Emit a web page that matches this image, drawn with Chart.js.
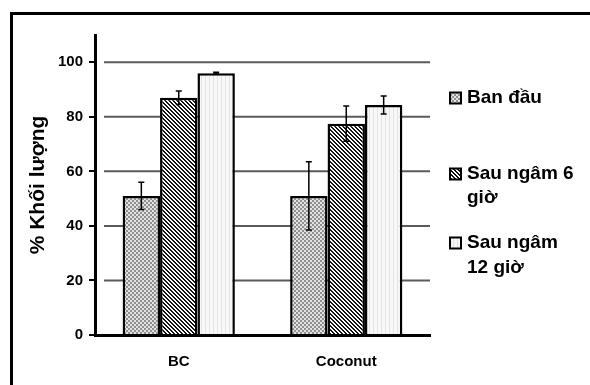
<!DOCTYPE html>
<html>
<head>
<meta charset="utf-8">
<script src="https://cdn.jsdelivr.net/npm/chart.js@4/dist/chart.umd.min.js"></script>
<style>
  html, body { margin: 0; padding: 0; background: #fff; }
  #wrap { width: 590px; height: 385px; }
</style>
</head>
<body>
<div id="wrap"><canvas id="myChart"></canvas></div>
<script>
/* Datos del gráfico */
const categories = ["BC", "Coconut"];
const seriesNames = ["Ban đầu", "Sau ngâm 6 giờ", "Sau ngâm 12 giờ"];
const legendLines = [["Ban đầu"], ["Sau ngâm 6", "giờ"], ["Sau ngâm", "12 giờ"]];
const banDau = [51, 51];
const sau6 = [87, 77.5];
const sau12 = [96, 84.3];
const errBanDau = [5, 12.5];
const errSau6 = [2.5, 6.5];
const errSau12 = [0.3, 3.3];
const yTicks = [0, 20, 40, 60, 80, 100];

const ctx = document.getElementById("myChart");

/* Texturas de las barras */
const makePattern = (kind) => {
  const c = document.createElement("canvas");
  c.width = 4;
  c.height = 4;
  const g = c.getContext("2d");
  if (kind === "check") {
    g.fillStyle = "#e2e2e2";
    g.fillRect(0, 0, 4, 4);
    g.fillStyle = "#909090";
    g.fillRect(0, 0, 2, 2);
    g.fillRect(2, 2, 2, 2);
  } else if (kind === "hatch") {
    g.fillStyle = "#fff";
    g.fillRect(0, 0, 4, 4);
    g.fillStyle = "#111";
    for (let i = 0; i < 4; i++) {
      g.fillRect(i, i, 2, 1);
      if (i > 2) g.fillRect(0, i, 1, 1);
    }
  } else {
    g.fillStyle = "#f8f8f8";
    g.fillRect(0, 0, 4, 4);
    g.fillStyle = "#e4e4e4";
    g.fillRect(1, 0, 1, 4);
  }
  return g.createPattern(c, "repeat");
};

const fills = [makePattern("check"), makePattern("hatch"), makePattern("light")];
const errors = [errBanDau, errSau6, errSau12];

/* Marco, líneas de cuadrícula, barras de error y leyenda */
const extras = {
  id: "extras",
  beforeDraw: (chart) => {
    const c = chart.ctx;
    c.save();
    c.strokeStyle = "#000";
    c.lineWidth = 3;
    c.beginPath();
    c.moveTo(590, 13.5);
    c.lineTo(11.5, 13.5);
    c.lineTo(11.5, 385);
    c.stroke();
    c.restore();
  },
  beforeDatasetsDraw: (chart) => {
    const c = chart.ctx;
    const y = chart.scales.y;
    const area = chart.chartArea;
    c.save();
    c.strokeStyle = "#5a5a5a";
    c.lineWidth = 2;
    yTicks.filter((v) => v > 0).forEach((v) => {
      const py = y.getPixelForValue(v);
      c.beginPath();
      c.moveTo(area.left + 9, py);
      c.lineTo(area.right, py);
      c.stroke();
    });
    c.restore();
  },
  afterDatasetsDraw: (chart) => {
    const c = chart.ctx;
    const y = chart.scales.y;
    c.save();
    c.strokeStyle = "#000";
    c.lineWidth = 1.5;
    chart.data.datasets.forEach((ds, i) => {
      const meta = chart.getDatasetMeta(i);
      meta.data.forEach((bar, j) => {
        const v = ds.data[j];
        const e = errors[i][j];
        const top = y.getPixelForValue(v + e);
        const bot = y.getPixelForValue(v - e);
        c.beginPath();
        c.moveTo(bar.x, top);
        c.lineTo(bar.x, bot);
        c.moveTo(bar.x - 3, top);
        c.lineTo(bar.x + 3, top);
        c.moveTo(bar.x - 3, bot);
        c.lineTo(bar.x + 3, bot);
        c.stroke();
      });
    });
    // leyenda
    const rows = [[98], [174, 198], [243, 268]];
    c.font = "bold 19px 'Liberation Sans', Arial, sans-serif";
    c.textBaseline = "middle";
    legendLines.forEach((lines, i) => {
      c.fillStyle = fills[i];
      c.fillRect(450, rows[i][0] - 5.5, 11, 11);
      c.lineWidth = 2;
      c.strokeRect(450, rows[i][0] - 5.5, 11, 11);
      c.fillStyle = "#000";
      lines.forEach((t, k) => c.fillText(t, 467, rows[i][k]));
    });
    c.restore();
  },
};

const config = {
  type: "bar",
  data: {
    labels: categories,
    datasets: [banDau, sau6, sau12].map((d, i) => ({
      label: seriesNames[i],
      data: d,
      backgroundColor: fills[i],
      borderColor: "#000",
      borderWidth: 2.5,
      borderSkipped: "bottom",
      categoryPercentage: 0.67,
      barPercentage: 1,
    })),
  },
  options: {
    responsive: true,
    maintainAspectRatio: false,
    animation: false,
    layout: { padding: { left: 21, right: 160, top: 35, bottom: 0 } },
    plugins: { legend: { display: false }, tooltip: { enabled: false } },
    scales: {
      x: {
        grid: { display: false },
        border: { display: true, color: "#000", width: 3 },
        ticks: {
          color: "#000",
          padding: 10,
          font: { family: "'Liberation Sans', Arial", size: 15, weight: "bold" },
        },
        afterFit: (s) => { s.height = 50; },
      },
      y: {
        min: 0,
        max: 110,
        afterBuildTicks: (s) => {
          s.ticks = yTicks.map((v) => ({ value: v }));
        },
        grid: { drawOnChartArea: false, tickColor: "#000", tickLength: 6, lineWidth: 2 },
        border: { display: true, color: "#000", width: 3 },
        ticks: {
          color: "#000",
          padding: 6,
          font: { family: "'Liberation Sans', Arial", size: 15, weight: "bold" },
        },
        title: {
          display: true,
          text: "% Khối lượng",
          color: "#000",
          padding: { top: 5, bottom: 4 },
          font: { family: "'Liberation Sans', Arial", size: 21, weight: "bold" },
        },
        afterFit: (s) => { s.width = 74; },
      },
    },
  },
  plugins: [extras],
};

let myChart = new Chart(ctx, config);
</script>
</body>
</html>
